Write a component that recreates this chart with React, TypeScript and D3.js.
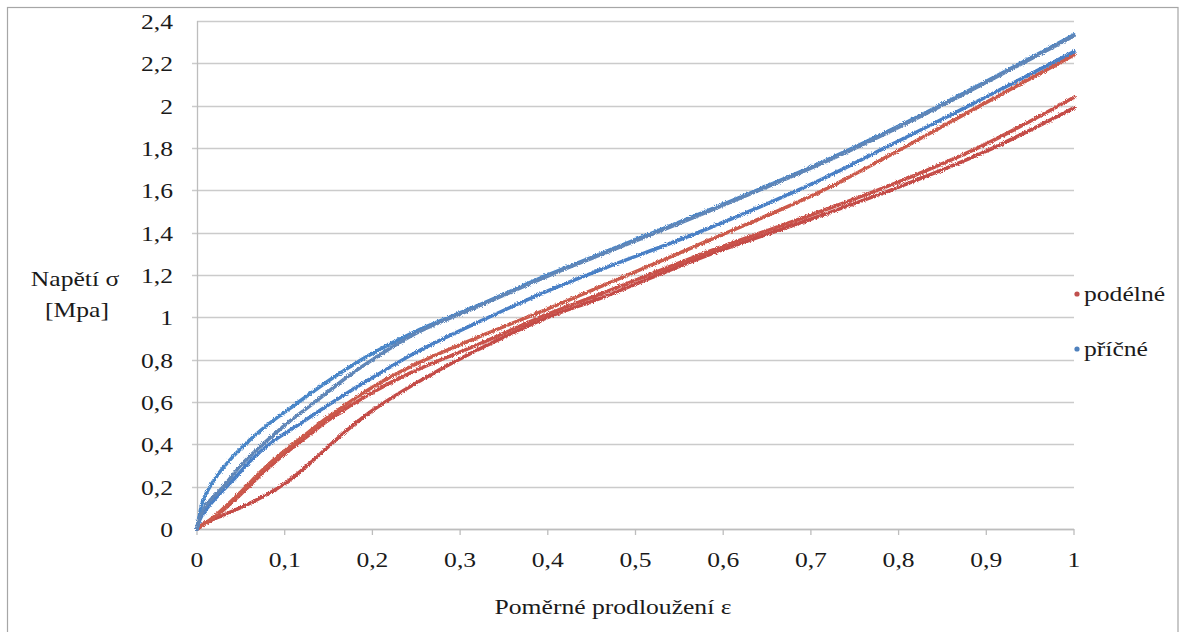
import { useMemo } from 'react';
import * as d3 from 'd3';

const WIDTH = 1185;
const HEIGHT = 632;
const MARGIN = { top: 21, left: 197, right: 111, bottom: 103 };
const FONT = "'Liberation Serif', 'Times New Roman', serif";
const STRETCH = 1.22; // the source picture is stretched horizontally

// strain / stress values
const strainA = [0, 0.003, 0.007, 0.022, 0.041, 0.06, 0.083, 0.106, 0.15, 0.174, 0.2, 0.25, 0.317, 0.4, 0.46, 0.58, 0.711, 0.787, 0.863, 1];
const stressA = [0, 0.07, 0.137, 0.247, 0.342, 0.42, 0.5, 0.57, 0.7, 0.765, 0.83, 0.935, 1.05, 1.2, 1.3, 1.5, 1.73, 1.877, 2.035, 2.335];

const strainB = [0, 0.003, 0.01, 0.03, 0.052, 0.075, 0.1, 0.125, 0.15, 0.175, 0.2, 0.25, 0.317, 0.4, 0.46, 0.58, 0.711, 0.787, 0.863, 1];
const stressB = [0, 0.05, 0.11, 0.2, 0.31, 0.4, 0.49, 0.57, 0.65, 0.73, 0.8, 0.925, 1.045, 1.195, 1.295, 1.495, 1.725, 1.872, 2.03, 2.33];

const strainC = [0, 0.005, 0.02, 0.041, 0.064, 0.087, 0.113, 0.14, 0.174, 0.2, 0.25, 0.317, 0.4, 0.46, 0.58, 0.711, 0.787, 0.863, 1];
const stressC = [0, 0.06, 0.14, 0.231, 0.335, 0.415, 0.485, 0.56, 0.65, 0.715, 0.835, 0.97, 1.125, 1.225, 1.415, 1.649, 1.806, 1.964, 2.255];

const strainR1 = [0, 0.02, 0.05, 0.075, 0.1, 0.125, 0.15, 0.2, 0.25, 0.317, 0.4, 0.46, 0.58, 0.711, 0.787, 0.863, 1];
const stressR1 = [0, 0.06, 0.175, 0.28, 0.37, 0.45, 0.53, 0.67, 0.78, 0.9, 1.04, 1.145, 1.357, 1.594, 1.759, 1.932, 2.24];

const strainR2 = [0, 0.02, 0.05, 0.075, 0.1, 0.125, 0.15, 0.2, 0.25, 0.317, 0.4, 0.46, 0.58, 0.711, 0.8, 0.9, 1];
const stressR2 = [0, 0.055, 0.165, 0.265, 0.355, 0.435, 0.515, 0.645, 0.75, 0.865, 1.015, 1.11, 1.305, 1.5, 1.64, 1.82, 2.04];

const strainR3 = [0, 0.01, 0.026, 0.06, 0.091, 0.11, 0.13, 0.15, 0.175, 0.2, 0.25, 0.317, 0.4, 0.46, 0.58, 0.711, 0.8, 0.9, 1];
const stressR3 = [0, 0.03, 0.058, 0.121, 0.19, 0.245, 0.315, 0.39, 0.48, 0.56, 0.69, 0.84, 1.0, 1.09, 1.29, 1.48, 1.615, 1.785, 1.99];

const xTicks = [0, 0.1, 0.2, 0.3, 0.4, 0.5, 0.6, 0.7, 0.8, 0.9, 1];
const yTicks = [0, 0.2, 0.4, 0.6, 0.8, 1, 1.2, 1.4, 1.6, 1.8, 2, 2.2, 2.4];

const RED = '#c0504d';
const BLUE = '#4f81bd';

const legendItems = [
  { label: 'podélné', color: RED },
  { label: 'příčné', color: BLUE },
];

const curves = [
  { xs: strainR3, ys: stressR3, color: '#c44c47' },
  { xs: strainR2, ys: stressR2, color: '#c9514a' },
  { xs: strainR1, ys: stressR1, color: '#cc5a4c' },
  { xs: strainC, ys: stressC, color: '#4a80c6' },
  { xs: strainA, ys: stressA, color: '#4a86c8' },
  { xs: strainB, ys: stressB, color: '#5f86b8' },
];

const fmt = (v: number) => String(v).replace('.', ',');

function Label({ x, y, anchor = 'start', children }: { x: number; y: number; anchor?: string; children: any }) {
  return (
    <text
      transform={`translate(${x},${y}) scale(${STRETCH},1)`}
      textAnchor={anchor}
      fontSize={21}
      fill="#1a1a1a"
      style={{ fontFamily: FONT }}
    >
      {children}
    </text>
  );
}

export default function App() {
  const innerW = WIDTH - MARGIN.left - MARGIN.right;
  const innerH = HEIGHT - MARGIN.top - MARGIN.bottom;

  const { x, y, paths } = useMemo(() => {
    const x = d3.scaleLinear().domain([0, 1]).range([MARGIN.left, MARGIN.left + innerW]);
    const y = d3.scaleLinear().domain([0, 2.4]).range([MARGIN.top + innerH, MARGIN.top]);
    const line = d3
      .line<[number, number]>()
      .x((d) => x(d[0]))
      .y((d) => y(d[1]))
      .curve(d3.curveCatmullRom.alpha(0.5));
    const paths = curves.map((c) => ({
      d: line(c.xs.map((v, i) => [v, c.ys[i]] as [number, number])) || '',
      color: c.color,
    }));
    return { x, y, paths };
  }, [innerW, innerH]);

  const y0 = y(0);

  return (
    <svg
      width={WIDTH}
      height={HEIGHT}
      style={{ position: 'absolute', left: 0, top: 0, background: '#fff', fontFamily: FONT }}
    >
      <defs>
        <filter id="jitter" x="-5%" y="-5%" width="110%" height="110%">
          <feTurbulence type="fractalNoise" baseFrequency="1.1" numOctaves="2" seed="3" />
          <feDisplacementMap in="SourceGraphic" scale="3.4" xChannelSelector="R" yChannelSelector="G" />
        </filter>
      </defs>

      <rect x={7.5} y={7.5} width={1170.5} height={640} fill="#fff" stroke="#a6a6a6" strokeWidth={1.2} />

      {/* gridlines */}
      {yTicks.map((t) => (
        <line
          key={t}
          x1={t === 0 || t === 2.4 ? x(0) : x(0) - 5}
          x2={x(1)}
          y1={Math.round(y(t)) + 0.5}
          y2={Math.round(y(t)) + 0.5}
          stroke="#cbcbcb"
          strokeWidth={1.3}
        />
      ))}

      {/* axes */}
      <line x1={x(0) + 0.5} x2={x(0) + 0.5} y1={y(2.4)} y2={y0 + 0.5} stroke="#bdbdbd" strokeWidth={1.3} />
      <line x1={x(0)} x2={x(1)} y1={y0 + 0.5} y2={y0 + 0.5} stroke="#bdbdbd" strokeWidth={1.3} />
      {xTicks.map((t) => (
        <line key={t} x1={x(t)} x2={x(t)} y1={y0} y2={y0 + 6} stroke="#bdbdbd" strokeWidth={1.3} />
      ))}

      {yTicks.map((t) => (
        <Label key={t} x={173} y={y(t) + 8} anchor="end">
          {fmt(t)}
        </Label>
      ))}
      {xTicks.map((t) => (
        <Label key={t} x={x(t)} y={567} anchor="middle">
          {fmt(t)}
        </Label>
      ))}

      {/* data */}
      <g filter="url(#jitter)">
        {paths.map((p, i) => (
          <path
            key={i}
            d={p.d}
            fill="none"
            stroke={p.color}
            strokeWidth={3.6}
            strokeLinejoin="round"
            strokeLinecap="round"
          />
        ))}
      </g>

      {/* axis titles */}
      <Label x={75} y={286} anchor="middle">
        Napětí σ
      </Label>
      <Label x={77} y={317} anchor="middle">
        [Mpa]
      </Label>
      <Label x={613} y={614} anchor="middle">
        Poměrné prodloužení ε
      </Label>

      {/* legend */}
      {legendItems.map((it, i) => (
        <g key={it.label}>
          <circle cx={1077} cy={294 + i * 55} r={2.6} fill={it.color} />
          <Label x={1084} y={301 + i * 55}>
            {it.label}
          </Label>
        </g>
      ))}
    </svg>
  );
}
